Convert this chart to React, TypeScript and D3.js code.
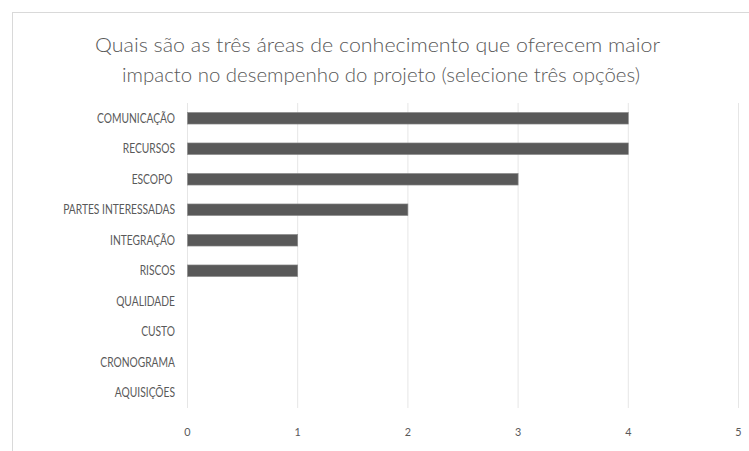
import React from "react";
import * as d3 from "d3";

const categories = [
  "COMUNICAÇÃO",
  "RECURSOS",
  "ESCOPO ",
  "PARTES INTERESSADAS",
  "INTEGRAÇÃO",
  "RISCOS",
  "QUALIDADE",
  "CUSTO",
  "CRONOGRAMA",
  "AQUISIÇÕES",
];
const values = [4, 4, 3, 2, 1, 1, 0, 0, 0, 0];
const ticks = [0, 1, 2, 3, 4, 5];
const titleLines = [
  "Quais são as três áreas de conhecimento que oferecem maior",
  "impacto no desempenho  do projeto (selecione três opções)",
];

export default function App() {
  const W = 749;
  const H = 451;
  const left = 187.5;
  const right = 738.5;
  const top = 103;
  const bottom = 408;
  const x = d3.scaleLinear().domain([0, 5]).range([left, right]);
  const y = d3.scaleBand<string>().domain(categories).range([top, bottom]).paddingInner(0.62).paddingOuter(0.31);
  const font = "Lato, 'Open Sans', sans-serif";
  const textColor = "#595959";
  const sx = 0.82;
  return (
    <svg
      width={W}
      height={H}
      style={{ position: "absolute", left: 0, top: 0 }}
      fontFamily={font}
    >
      <rect x={0} y={0} width={W} height={H} fill="#fff" />
      <rect x={12.5} y={12.5} width={W + 10} height={H + 10} fill="#fff" stroke="#d9d9d9" strokeWidth={1} />
      {titleLines.map((t, i) => (
        <text
          key={i}
          x={(i === 0 ? 95 : 122) + (i === 0 ? 565 : 518) / 2}
          y={52 + i * 30}
          textAnchor="middle"
          fontSize={20}
          fontWeight={300}
          fill={textColor}
          textLength={i === 0 ? 565 : 518}
          lengthAdjust="spacingAndGlyphs"
        >
          {t}
        </text>
      ))}
      {ticks.map((t) => (
        <line
          key={"g" + t}
          x1={x(t)}
          x2={x(t)}
          y1={top}
          y2={bottom}
          stroke="#e6e6e6"
          strokeWidth={1}
        />
      ))}
      {categories.map((c, i) => (
        <rect
          key={"b" + c}
          x={x(0)}
          y={y(c)!}
          width={x(values[i]) - x(0)}
          height={y.bandwidth()}
          fill="#595959"
          stroke="#8a8a8a"
          strokeWidth={values[i] > 0 ? 0.6 : 0}
        />
      ))}
      {categories.map((c) => (
        <text
          key={"l" + c}
          transform={`translate(175,${y(c)! + y.bandwidth() / 2}) scale(${sx},1)`}
          dy="0.35em"
          textAnchor="end"
          fontSize={12.5}
          fill={textColor}
          style={{ whiteSpace: "pre" }}
        >
          {c}
        </text>
      ))}
      {ticks.map((t) => (
        <text
          key={"t" + t}
          transform={`translate(${x(t)},436) scale(0.9,1)`}
          textAnchor="middle"
          fontSize={12}
          fill={textColor}
        >
          {t}
        </text>
      ))}
    </svg>
  );
}
